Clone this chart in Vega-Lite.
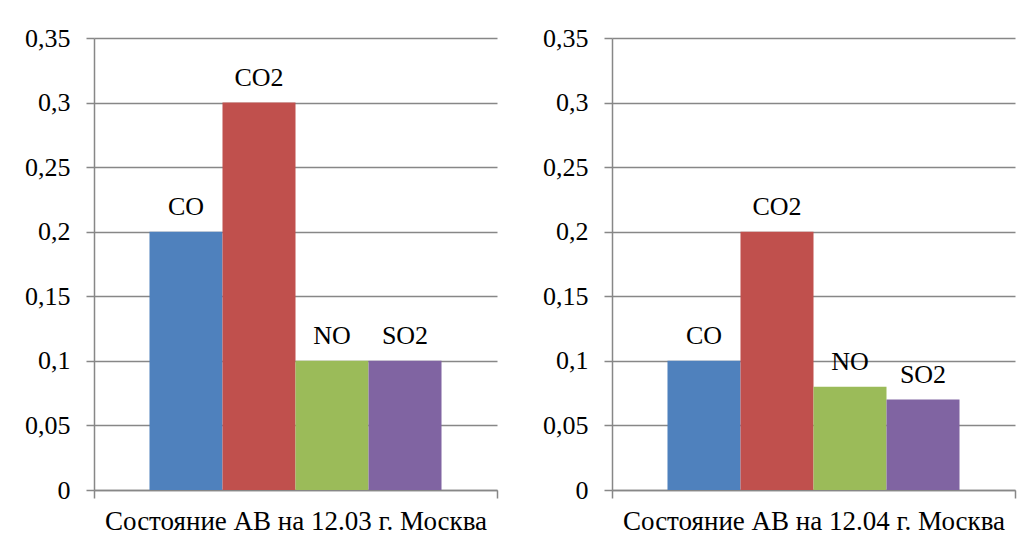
{
  "$schema": "https://vega.github.io/schema/vega-lite/v6.json",
  "background": "white",
  "padding": {"left": 24, "top": 25, "right": 5, "bottom": 5},
  "spacing": 44,
  "datasets": {
    "d": [
      {"panel": 1, "state": "Состояние АВ на 12.03 г. Москва", "gas": "CO", "value": 0.2},
      {"panel": 1, "state": "Состояние АВ на 12.03 г. Москва", "gas": "CO2", "value": 0.3},
      {"panel": 1, "state": "Состояние АВ на 12.03 г. Москва", "gas": "NO", "value": 0.1},
      {"panel": 1, "state": "Состояние АВ на 12.03 г. Москва", "gas": "SO2", "value": 0.1},
      {"panel": 2, "state": "Состояние АВ на 12.04 г. Москва", "gas": "CO", "value": 0.1},
      {"panel": 2, "state": "Состояние АВ на 12.04 г. Москва", "gas": "CO2", "value": 0.2},
      {"panel": 2, "state": "Состояние АВ на 12.04 г. Москва", "gas": "NO", "value": 0.08},
      {"panel": 2, "state": "Состояние АВ на 12.04 г. Москва", "gas": "SO2", "value": 0.07}
    ]
  },
  "config": {
    "view": {"stroke": null},
    "font": "Liberation Serif",
    "text": {"font": "Liberation Serif"},
    "axis": {
      "domainColor": "#878787",
      "domainWidth": 1.5,
      "tickColor": "#878787",
      "tickWidth": 1.5,
      "tickSize": 8,
      "gridColor": "#878787",
      "gridWidth": 1.5,
      "labelFont": "Liberation Serif",
      "labelFontSize": 26,
      "labelColor": "black",
      "titleFont": "Liberation Serif",
      "titleFontSize": 27,
      "titleFontWeight": "normal",
      "titleColor": "black"
    }
  },
  "hconcat": [
    {
      "width": 403,
      "height": 452,
      "data": {"name": "d"},
      "transform": [{"filter": "datum.panel == 1"}],
      "encoding": {
        "x": {"field": "state", "type": "nominal", "scale": {"paddingInner": 0, "paddingOuter": 0},
          "axis": {"labels": false, "tickBand": "extent", "title": "Состояние АВ на 12.03 г. Москва", "titlePadding": 10, "grid": false}},
        "xOffset": {"field": "gas", "type": "nominal", "sort": ["CO", "CO2", "NO", "SO2"], "scale": {"paddingInner": 0, "paddingOuter": 0.76}},
        "y": {"field": "value", "type": "quantitative", "scale": {"domain": [0, 0.35], "nice": false},
          "axis": {"title": null, "grid": true, "values": [0, 0.05, 0.1, 0.15, 0.2, 0.25, 0.3, 0.35], "labelExpr": "replace(format(datum.value, '~g'), '.', ',')", "labelPadding": 16}}
      },
      "layer": [
        {"mark": {"type": "bar"},
          "encoding": {"color": {"field": "gas", "type": "nominal", "scale": {"domain": ["CO", "CO2", "NO", "SO2"], "range": ["#4F81BD", "#C0504D", "#9BBB59", "#8064A2"]}, "legend": null}}},
        {"mark": {"type": "text", "dy": -17, "baseline": "alphabetic", "fontSize": 26, "font": "Liberation Serif", "color": "black"},
          "encoding": {"text": {"field": "gas", "type": "nominal"}}}
      ]
    },
    {
      "width": 403,
      "height": 452,
      "data": {"name": "d"},
      "transform": [{"filter": "datum.panel == 2"}],
      "encoding": {
        "x": {"field": "state", "type": "nominal", "scale": {"paddingInner": 0, "paddingOuter": 0},
          "axis": {"labels": false, "tickBand": "extent", "title": "Состояние АВ на 12.04 г. Москва", "titlePadding": 10, "grid": false}},
        "xOffset": {"field": "gas", "type": "nominal", "sort": ["CO", "CO2", "NO", "SO2"], "scale": {"paddingInner": 0, "paddingOuter": 0.76}},
        "y": {"field": "value", "type": "quantitative", "scale": {"domain": [0, 0.35], "nice": false},
          "axis": {"title": null, "grid": true, "values": [0, 0.05, 0.1, 0.15, 0.2, 0.25, 0.3, 0.35], "labelExpr": "replace(format(datum.value, '~g'), '.', ',')", "labelPadding": 16}}
      },
      "layer": [
        {"mark": {"type": "bar"},
          "encoding": {"color": {"field": "gas", "type": "nominal", "scale": {"domain": ["CO", "CO2", "NO", "SO2"], "range": ["#4F81BD", "#C0504D", "#9BBB59", "#8064A2"]}, "legend": null}}},
        {"mark": {"type": "text", "dy": -17, "baseline": "alphabetic", "fontSize": 26, "font": "Liberation Serif", "color": "black"},
          "encoding": {"text": {"field": "gas", "type": "nominal"}}}
      ]
    }
  ]
}
